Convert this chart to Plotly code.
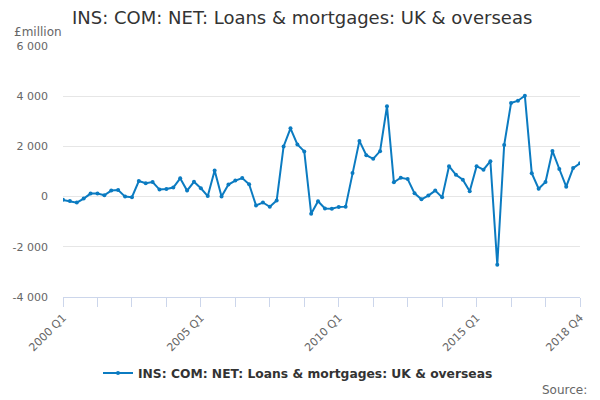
import plotly.graph_objs as go

# quarterly values, £million, 2000 Q1 .. 2018 Q4
quarters = [f"{year} Q{q}" for year in range(2000, 2019) for q in range(1, 5)]
values = [
    -130, -180, -240, -80, 120, 120, 55, 240,
    265, 0, -25, 620, 530, 580, 280, 300,
    360, 730, 240, 590, 330, 20, 1040, 0,
    480, 640, 740, 490, -350, -235, -405, -155,
    2000, 2720, 2080, 1800, -680, -185, -470, -480,
    -410, -400, 940, 2220, 1650, 1505, 1810, 3600,
    570, 750, 700, 130, -110, 40, 240, -30,
    1210, 870, 675, 210, 1210, 1070, 1410, -2715,
    2055, 3730, 3820, 4020, 935, 315, 580, 1820,
    1100, 395, 1135, 1330,
]

series_name = "INS: COM: NET: Loans & mortgages: UK & overseas"
y_tickvals = [-4000, -2000, 0, 2000, 4000, 6000]
y_ticktext = ["-4 000", "-2 000", "0", "2 000", "4 000", "6 000"]
x_labelled = ["2000 Q1", "2005 Q1", "2010 Q1", "2015 Q1", "2018 Q4"]

# tick marks every 5 quarters, only some of them labelled
x_tickvals = quarters[::5]
x_ticktext = [q if q in x_labelled else "" for q in x_tickvals]

# page body adds an 8px margin, so the figure is 8px smaller each way
W, H = 592, 392
L, R, T, B = 55, 20, 38, 103
pw, ph = W - L - R, H - T - B

fig = go.Figure()
fig.add_trace(go.Scatter(
    x=quarters, y=values, name=series_name, mode="lines+markers",
    line={"color": "#0b7bc1", "width": 2},
    marker={"color": "#0b7bc1", "size": 4},
))

fig.update_layout(
    width=W, height=H,
    margin={"l": L, "r": R, "t": T, "b": B, "autoexpand": False},
    paper_bgcolor="white", plot_bgcolor="white",
    font={"family": "DejaVu Sans", "color": "#666666"},
    title={"text": "INS: COM: NET: Loans & mortgages: UK & overseas",
           "x": 64 / W, "xanchor": "left", "y": 1 - 10 / H, "yanchor": "middle",
           "pad": {"l": 0, "r": 0, "t": 0, "b": 0},
           "font": {"size": 18, "color": "#333333"}},
    showlegend=True,
    legend={"orientation": "h", "xref": "container", "x": 290 / W, "xanchor": "center",
            "yref": "container", "y": 27 / H, "yanchor": "middle",
            "font": {"size": 12.3, "color": "#333333", "weight": "bold"}},
    annotations=[
        {"text": "£million", "xref": "paper", "yref": "paper",
         "x": -51 / pw, "xanchor": "left", "y": 1 + 14 / ph, "yanchor": "middle",
         "showarrow": False, "font": {"size": 12, "color": "#666666"}},
        {"text": "Source:", "xref": "paper", "yref": "paper",
         "x": 1 + 9 / pw, "xanchor": "right", "y": -93 / ph, "yanchor": "middle",
         "showarrow": False, "font": {"size": 12, "color": "#666666"}},
    ],
)

fig.update_xaxes(
    type="category", tickmode="array", tickvals=x_tickvals, ticktext=x_ticktext,
    tickangle=-45, ticks="outside", ticklen=9, tickcolor="#ccd6eb",
    showline=True, linecolor="#ccd6eb", linewidth=1, showgrid=False,
    tickfont={"size": 11, "color": "#666666"}, range=[0, len(quarters) - 1],
    automargin=False,
)
fig.update_yaxes(
    range=[-4000, 6000], tickmode="array", tickvals=y_tickvals, ticktext=y_ticktext,
    showgrid=True, gridcolor="#e6e6e6", zeroline=False,
    tickfont={"size": 11, "color": "#666666"}, ticklabelstandoff=14,
    automargin=False,
)

fig.write_html("out.html")
